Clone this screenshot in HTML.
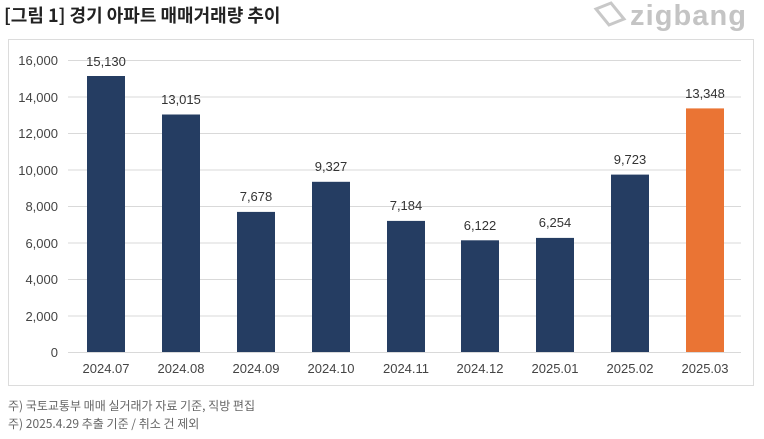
<!DOCTYPE html>
<html><head><meta charset="utf-8"><style>
body{margin:0;width:764px;height:434px;background:#fff;overflow:hidden;font-family:"Liberation Sans","Noto Sans CJK KR",sans-serif}
</style></head><body>
<svg width="764" height="434" xmlns="http://www.w3.org/2000/svg" font-family="Liberation Sans, Noto Sans CJK KR, sans-serif">
<text x="4" y="22" font-size="18" font-weight="bold" fill="#222" font-family="Noto Sans CJK KR, sans-serif">[그림 1] 경기 아파트 매매거래량 추이</text>
<g fill="none" stroke="#c8c8c8" stroke-width="3"><path d="M596 9 L611 3 L624 19 L609 25 Z"/></g>
<text x="630" y="25" font-size="29" font-weight="bold" fill="#c4c4c4" textLength="116">zigbang</text>
<rect x="8.5" y="39.5" width="745" height="346" fill="#fff" stroke="#dcdcdc"/>
<g stroke="#d9d9d9" stroke-width="1">
<line x1="68" x2="741" y1="60.5" y2="60.5"/><line x1="68" x2="741" y1="97" y2="97"/><line x1="68" x2="741" y1="133.5" y2="133.5"/><line x1="68" x2="741" y1="170" y2="170"/><line x1="68" x2="741" y1="206.5" y2="206.5"/><line x1="68" x2="741" y1="243" y2="243"/><line x1="68" x2="741" y1="279.5" y2="279.5"/><line x1="68" x2="741" y1="316" y2="316"/><line x1="68" x2="741" y1="352.5" y2="352.5"/>
</g>
<g font-size="13" fill="#444" text-anchor="end">
<text x="58" y="65">16,000</text><text x="58" y="102">14,000</text><text x="58" y="138">12,000</text><text x="58" y="175">10,000</text><text x="58" y="211">8,000</text><text x="58" y="248">6,000</text><text x="58" y="284">4,000</text><text x="58" y="321">2,000</text><text x="58" y="357">0</text>
</g>
<g fill="#253d62">
<rect x="87" y="76" width="38" height="276"/>
<rect x="162" y="114.5" width="38" height="237.5"/>
<rect x="237" y="211.9" width="38" height="140.1"/>
<rect x="312" y="181.8" width="38" height="170.2"/>
<rect x="387" y="220.9" width="38" height="131.1"/>
<rect x="461" y="240.3" width="38" height="111.7"/>
<rect x="536" y="237.9" width="38" height="114.1"/>
<rect x="611" y="174.6" width="38" height="177.4"/>
<rect x="686" y="108.4" width="38" height="243.6" fill="#ea7434"/>
</g>
<g font-size="13" fill="#333" text-anchor="middle">
<text x="106" y="66">15,130</text><text x="181" y="104">13,015</text><text x="256" y="201">7,678</text><text x="331" y="171">9,327</text><text x="406" y="210">7,184</text><text x="480" y="230">6,122</text><text x="555" y="227">6,254</text><text x="630" y="164">9,723</text><text x="705" y="98">13,348</text>
</g>
<g font-size="13" fill="#444" text-anchor="middle">
<text x="106" y="373">2024.07</text><text x="181" y="373">2024.08</text><text x="256" y="373">2024.09</text><text x="331" y="373">2024.10</text><text x="406" y="373">2024.11</text><text x="480" y="373">2024.12</text><text x="555" y="373">2025.01</text><text x="630" y="373">2025.02</text><text x="705" y="373">2025.03</text>
</g>
<g font-size="12" fill="#666" font-family="Noto Sans CJK KR, sans-serif">
<text x="8" y="410">주) 국토교통부 매매 실거래가 자료 기준, 직방 편집</text>
<text x="8" y="428">주) 2025.4.29 추출 기준 / 취소 건 제외</text>
</g>
</svg>
</body></html>
